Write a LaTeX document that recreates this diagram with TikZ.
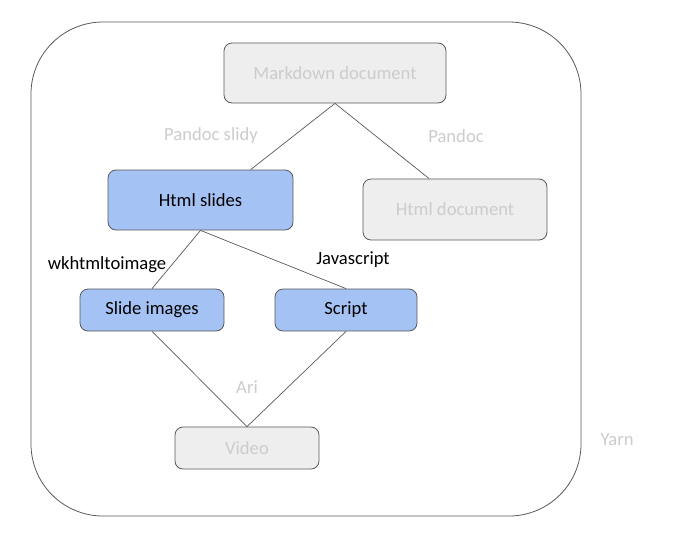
\documentclass[tikz,border=0pt]{standalone}
\usepackage{fontspec}
\setmainfont{Carlito}
\usetikzlibrary{calc}
\definecolor{boxgray}{HTML}{EEEEEE}
\definecolor{boxblue}{HTML}{A4C2F4}
\definecolor{edgegray}{HTML}{595959}
\definecolor{txtgray}{HTML}{CCCCCC}
\tikzset{
  base/.style={draw=edgegray, line width=0.8pt, rounded corners=8pt, font=\fontsize{18.6}{21}\selectfont, inner sep=0pt},
  graybox/.style={base, fill=boxgray, text=txtgray},
  bluebox/.style={base, fill=boxblue, text=black},
  conn/.style={draw=edgegray, line width=0.7pt},
  glabel/.style={font=\fontsize{18.6}{21}\selectfont, text=txtgray, inner sep=0pt},
  blabel/.style={font=\fontsize{18.6}{21}\selectfont, text=black, inner sep=0pt},
}
\begin{document}
\begin{tikzpicture}[x=1pt,y=-1pt]
\useasboundingbox (0,0) rectangle (680,539);
\node[draw=edgegray, line width=0.8pt, rounded corners=72pt, minimum width=550pt, minimum height=494pt, inner sep=0pt] (outer) at (306,269) {};
\node[graybox, minimum width=222pt, minimum height=60pt] (md) at (335,73) {Markdown document};
\node[bluebox, minimum width=185pt, minimum height=60pt] (hs) at (200.5,200) {Html slides};
\node[graybox, minimum width=184pt, minimum height=61pt] (hd) at (455,209.5) {Html document};
\node[bluebox, minimum width=144pt, minimum height=42pt] (si) at (152,310) {Slide images};
\node[bluebox, minimum width=142pt, minimum height=42pt] (sc) at (346,310) {Script};
\node[graybox, minimum width=144pt, minimum height=42pt] (vid) at (247,448) {Video};
\draw[conn] (md.south) -- ($(hs.north west)!0.77!(hs.north east)$);
\draw[conn] (md.south) -- ($(hd.north west)!0.36!(hd.north east)$);
\draw[conn] (hs.south) -- (si.north);
\draw[conn] (hs.south) -- (sc.north);
\draw[conn] (si.south) -- (vid.north);
\draw[conn] (sc.south) -- (vid.north);
\node[glabel] (l1) at (211,136) {Pandoc slidy};
\node[glabel] (l2) at (456,136) {Pandoc};
\node[blabel] (l3) at (107,265) {wkhtmltoimage};
\node[blabel] (l4) at (353,260) {Javascript};
\node[glabel] (l5) at (247,387) {Ari};
\node[glabel] (l6) at (617,440) {Yarn};
\end{tikzpicture}
\end{document}
